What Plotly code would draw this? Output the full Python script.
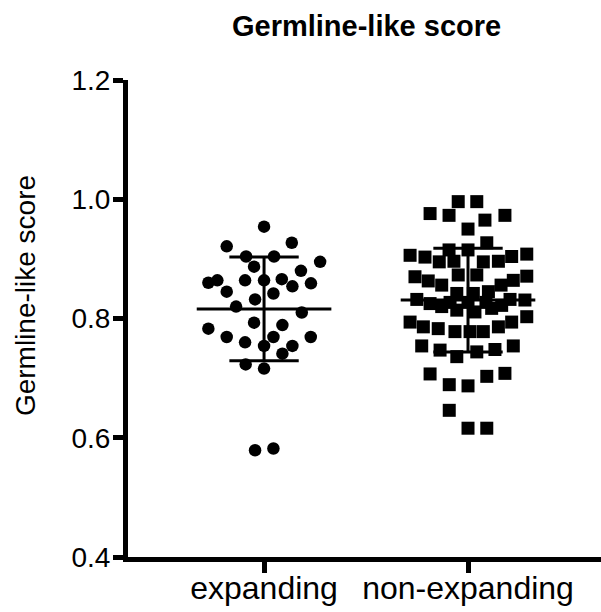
import plotly.graph_objects as go

# ---- data ----
categories = ["expanding", "non-expanding"]

expanding_values = [0.954, 0.921, 0.927, 0.904, 0.904, 0.895, 0.887, 0.880, 0.860, 0.864,
                    0.864, 0.864, 0.866, 0.854, 0.859, 0.845, 0.842, 0.832, 0.820, 0.810,
                    0.793, 0.789, 0.783, 0.769, 0.769, 0.769, 0.760, 0.754, 0.754, 0.741,
                    0.723, 0.716, 0.579, 0.582]
expanding_jitter = [0.0, -0.183, 0.136, -0.088, 0.049, 0.275, -0.049, 0.181, -0.273, -0.229,
                    -0.093, 0.0, 0.087, 0.139, 0.230, -0.183, 0.046, -0.044, -0.137, 0.185,
                    -0.049, 0.090, -0.273, -0.183, 0.046, 0.229, -0.093, 0.0, 0.139, 0.090,
                    -0.090, 0.0, -0.044, 0.046]

nonexp_values = [0.996, 0.996, 0.976, 0.973, 0.965, 0.973, 0.950, 0.927, 0.915, 0.915,
                 0.906, 0.903, 0.895, 0.896, 0.895, 0.896, 0.904, 0.908,
                 0.873, 0.873, 0.870, 0.863, 0.856, 0.871, 0.864, 0.856,
                 0.842, 0.842, 0.845, 0.832, 0.825, 0.832, 0.831, 0.827, 0.827, 0.827,
                 0.814, 0.811, 0.817, 0.820, 0.822,
                 0.794, 0.786, 0.783, 0.778, 0.778, 0.778, 0.786, 0.794, 0.803,
                 0.754, 0.747, 0.736, 0.744, 0.748, 0.754,
                 0.707, 0.708, 0.703, 0.689, 0.687, 0.646, 0.616, 0.616]
nonexp_jitter = [-0.048, 0.043, -0.186, -0.093, 0.083, 0.181, 0.0, 0.092, -0.093, 0.0,
                 -0.284, -0.211, -0.141, -0.069, 0.075, 0.149, 0.214, 0.288,
                 -0.048, 0.043, -0.260, -0.195, -0.129, 0.288, 0.222, 0.162,
                 -0.055, 0.026, 0.100, -0.251, -0.186, 0.206, 0.279, -0.088, 0.0, 0.088,
                 -0.055, 0.034, 0.116, -0.129, 0.165,
                 -0.284, -0.219, -0.146, -0.064, 0.010, 0.075, 0.149, 0.214, 0.288,
                 -0.227, -0.137, -0.055, 0.043, 0.132, 0.222,
                 -0.186, 0.181, 0.092, -0.092, 0.0, -0.092, 0.0, 0.092]

group_means = [0.816, 0.831]
group_sds = [0.087, 0.087]

y_tick_values = [0.4, 0.6, 0.8, 1.0, 1.2]
y_tick_labels = ["0.4", "0.6", "0.8", "1.0", "1.2"]

title_text = "Germline-like score"
y_title_text = "Germline-like score"

FONT = "Liberation Sans, Arial, Helvetica, sans-serif"

fig = go.Figure()

fig.add_trace(go.Scatter(
    x=[0 + j for j in expanding_jitter], y=expanding_values, mode="markers",
    marker=dict(symbol="circle", size=12.5, color="black"), showlegend=False, hoverinfo="y"))
fig.add_trace(go.Scatter(
    x=[1 + j for j in nonexp_jitter], y=nonexp_values, mode="markers",
    marker=dict(symbol="square", size=13, color="black"), showlegend=False, hoverinfo="y"))

MEAN_HALF = 0.33
CAP_HALF = 0.17
for i, (m, s) in enumerate(zip(group_means, group_sds)):
    # mean line
    fig.add_trace(go.Scatter(x=[i - MEAN_HALF, i + MEAN_HALF], y=[m, m], mode="lines",
                             line=dict(color="black", width=3), showlegend=False, hoverinfo="skip"))
    # vertical SD line
    fig.add_trace(go.Scatter(x=[i, i], y=[m - s, m + s], mode="lines",
                             line=dict(color="black", width=3), showlegend=False, hoverinfo="skip"))
    # caps
    for yv in (m - s, m + s):
        fig.add_trace(go.Scatter(x=[i - CAP_HALF, i + CAP_HALF], y=[yv, yv], mode="lines",
                                 line=dict(color="black", width=3), showlegend=False, hoverinfo="skip"))

fig.update_layout(
    width=601, height=612,
    margin=dict(l=128, r=0, t=80, b=55, pad=0),
    plot_bgcolor="white", paper_bgcolor="white",
    font=dict(family=FONT, color="black"),
    xaxis=dict(range=[-0.667, 1.652], tickvals=[0, 1], ticktext=categories,
               showline=True, linecolor="black", linewidth=5, ticks="outside",
               ticklen=11, tickwidth=5, tickcolor="black", showgrid=False, zeroline=False,
               ticklabelstandoff=-12,
               tickfont=dict(size=32, family=FONT, color="black")),
    yaxis=dict(range=[0.4, 1.2], tickvals=y_tick_values, ticktext=y_tick_labels,
               showline=True, linecolor="black", linewidth=5, ticks="outside",
               ticklen=10, tickwidth=5, tickcolor="black", showgrid=False, zeroline=False,
               ticklabelstandoff=-3,
               tickfont=dict(size=28, family=FONT, color="black")),
    annotations=[
        dict(text="<b>" + title_text + "</b>", xref="paper", yref="paper",
             x=0.505, y=1.113, xanchor="center", yanchor="middle", showarrow=False,
             font=dict(size=29, family=FONT, color="black")),
        dict(text=y_title_text, xref="paper", yref="paper", textangle=-90,
             x=(25 - 128) / 473, y=0.547, xanchor="center", yanchor="middle", showarrow=False,
             font=dict(size=28, family=FONT, color="black")),
    ],
)

fig.write_html("out.html", config={"displayModeBar": False},
               post_script="document.body.style.margin='0';")
